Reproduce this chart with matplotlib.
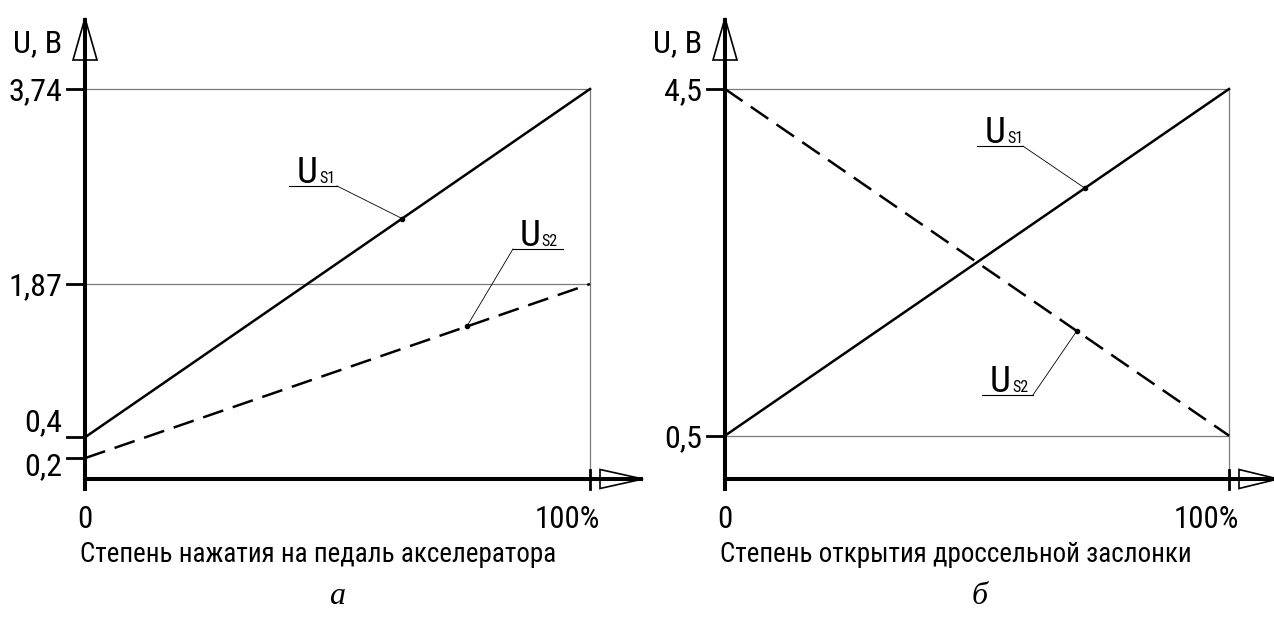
import numpy as np
import matplotlib.pyplot as plt
from matplotlib import font_manager as fm
from matplotlib.lines import Line2D
from matplotlib.patches import Polygon

W, H = 1274, 617

# педаль акселератора: положение, % и напряжения датчиков, В
pedal_pos = [0, 100]
pedal_us1 = [0.4, 3.74]
pedal_us2 = [0.2, 1.87]
pedal_ticks = [0.2, 0.4, 1.87, 3.74]
pedal_labels = ['0,2', '0,4', '1,87', '3,74']
pedal_label_dy = [-5, 18, 0, 0]

# дроссельная заслонка
throttle_pos = [0, 100]
throttle_us1 = [0.5, 4.5]
throttle_us2 = [4.5, 0.5]
throttle_ticks = [0.5, 4.5]
throttle_labels = ['0,5', '4,5']
throttle_label_dy = [0, 0]


def pick_font():
    # узкий шрифт, если есть
    fonts = fm.fontManager.ttflist
    names = {f.name for f in fonts}
    for n in ['Liberation Sans Narrow', 'Roboto Condensed', 'DejaVu Sans Condensed',
              'Open Sans Condensed', 'Noto Sans Condensed']:
        if n in names:
            return n, 'normal'
    for n in ['DejaVu Sans', 'Noto Sans', 'Open Sans', 'Roboto']:
        for f in fonts:
            if f.name == n and f.stretch in ('condensed', 'semi-condensed', 'extra-condensed'):
                return n, f.stretch
    return 'DejaVu Sans', 'normal'


FONT, STRETCH = pick_font()
plt.rcParams['font.family'] = [FONT, 'DejaVu Sans']
plt.rcParams['font.stretch'] = STRETCH

fig = plt.figure(figsize=(W / 100, H / 100), dpi=100)

# подгонка размера шрифта по ширине подписи оси
probe = fig.text(0, 0, 'Степень нажатия на педаль акселератора', fontsize=21)
fig.canvas.draw()
k = min(1.0, 475 / probe.get_window_extent().width)
probe.remove()


def fs(size):
    return size * k


def fx(x):
    return x / W


def fy(y):
    return 1 - y / H


def frame(x0, x1, tip_x, top=89, base=479):
    # оси со стрелками в пикселях рисунка
    fig.add_artist(Polygon([(fx(x0 - 12), fy(60)), (fx(x0 + 12), fy(60)), (fx(x0), fy(18))],
                           closed=True, fc='white', ec='k', lw=1.2, transform=fig.transFigure))
    fig.add_artist(Polygon([(fx(x1 + 10), fy(base - 9.5)), (fx(x1 + 10), fy(base + 9.5)),
                            (fx(tip_x), fy(base))],
                           closed=True, fc='white', ec='k', lw=1.2, transform=fig.transFigure))
    fig.add_artist(Line2D([fx(x0), fx(x0)], [fy(base + 10), fy(20)], lw=2.9, color='k',
                          transform=fig.transFigure))
    fig.add_artist(Line2D([fx(x0), fx(tip_x - 2)], [fy(base), fy(base)], lw=2.9, color='k',
                          transform=fig.transFigure))
    fig.add_artist(Line2D([fx(x1), fx(x1)], [fy(base - 9), fy(base + 10)], lw=2.0, color='k',
                          transform=fig.transFigure))
    ax = fig.add_axes([fx(x0), fy(base), (x1 - x0) / W, (base - top) / H])
    ax.set_axis_off()
    return ax


def callout(ax, xs, ys, name, sub, ux, uy, ul, ur, dot_x, from_right):
    ax.plot([ul, ur], [uy, uy], color='k', lw=0.8, clip_on=False)
    dot_y = np.interp(dot_x, xs, ys)
    start = ur if from_right else ul
    ax.plot([start, dot_x], [uy, dot_y], color='k', lw=0.6, clip_on=False)
    ax.plot(dot_x, dot_y, 'o', ms=3, color='k', clip_on=False)
    t = ax.annotate(name, xy=(ux, uy), xytext=(0, 3), textcoords='offset pixels',
                    ha='left', va='baseline', fontsize=fs(29))
    fig.canvas.draw()
    bb = t.get_window_extent()
    sx, _ = ax.transData.inverted().transform((bb.x1 + 1, bb.y0))
    ax.annotate(sub, xy=(sx, uy), xytext=(0, 3), textcoords='offset pixels',
                ha='left', va='baseline', fontsize=fs(12.5))


def panel(ax, pos, us1, us2, ticks, labels, label_dy, ymax, xlabel):
    ax.set_xlim(0, 100)
    ax.set_ylim(0, ymax)
    # тонкие линии до 100% и до уровней напряжения
    levels = [ticks[-1], ticks[-2]] if len(ticks) > 2 else ticks
    for v in levels:
        ax.plot([0, 100], [v, v], color='#7a7a7a', lw=0.9, clip_on=False)
    ax.plot([100, 100], [0, ymax], color='#7a7a7a', lw=0.9, clip_on=False)
    ax.plot(pos, us1, color='k', lw=1.8, clip_on=False)
    ax.plot(pos, us2, color='k', lw=1.8, ls=(0, (8.5, 4)), clip_on=False)
    ytr = ax.get_yaxis_transform()
    for v, lab, dy in zip(ticks, labels, label_dy):
        ax.plot([-18 / 505, 0], [v, v], color='k', lw=2.0, transform=ytr, clip_on=False)
        ax.annotate(lab, xy=(0, v), xycoords=ytr, xytext=(-23, dy - 3),
                    textcoords='offset pixels', ha='right', va='center', fontsize=fs(25))
    ax.annotate('U, B', xy=(0, ymax), xytext=(-23, 37), textcoords='offset pixels',
                ha='right', va='baseline', fontsize=fs(25))
    ax.annotate('0', xy=(0, 0), xytext=(0, -49), textcoords='offset pixels',
                ha='center', va='baseline', fontsize=fs(24))
    ax.annotate('100%', xy=(100, 0), xytext=(10, -49), textcoords='offset pixels',
                ha='right', va='baseline', fontsize=fs(24))
    ax.annotate(xlabel, xy=(0, 0), xytext=(-5, -83), textcoords='offset pixels',
                ha='left', va='baseline', fontsize=fs(21))


ax1 = frame(85, 590, 643)
panel(ax1, pedal_pos, pedal_us1, pedal_us2, pedal_ticks, pedal_labels, pedal_label_dy,
      3.74, 'Степень нажатия на педаль акселератора')
callout(ax1, pedal_pos, pedal_us1, 'U', 'S1', 42.0, 2.81, 40.4, 49.9, 62.8, True)
callout(ax1, pedal_pos, pedal_us2, 'U', 'S2', 86.1, 2.206, 84.75, 94.65, 75.6, False)

ax2 = frame(725, 1229, 1278)
panel(ax2, throttle_pos, throttle_us1, throttle_us2, throttle_ticks, throttle_labels,
      throttle_label_dy, 4.5, 'Степень открытия дроссельной заслонки')
callout(ax2, throttle_pos, throttle_us1, 'U', 'S1', 51.6, 3.842, 50.0, 59.1, 71.4, True)
callout(ax2, throttle_pos, throttle_us2, 'U', 'S2', 52.6, 0.969, 51.0, 61.1, 69.8, True)

fig.text(fx(337), fy(604), 'а', family=['Liberation Serif', 'DejaVu Serif'], style='italic',
         fontsize=23, ha='center', va='baseline')
fig.text(fx(980), fy(604), 'б', family=['Liberation Serif', 'DejaVu Serif'], style='italic',
         fontsize=23, ha='center', va='baseline')

fig.savefig('out.png', dpi=100)
